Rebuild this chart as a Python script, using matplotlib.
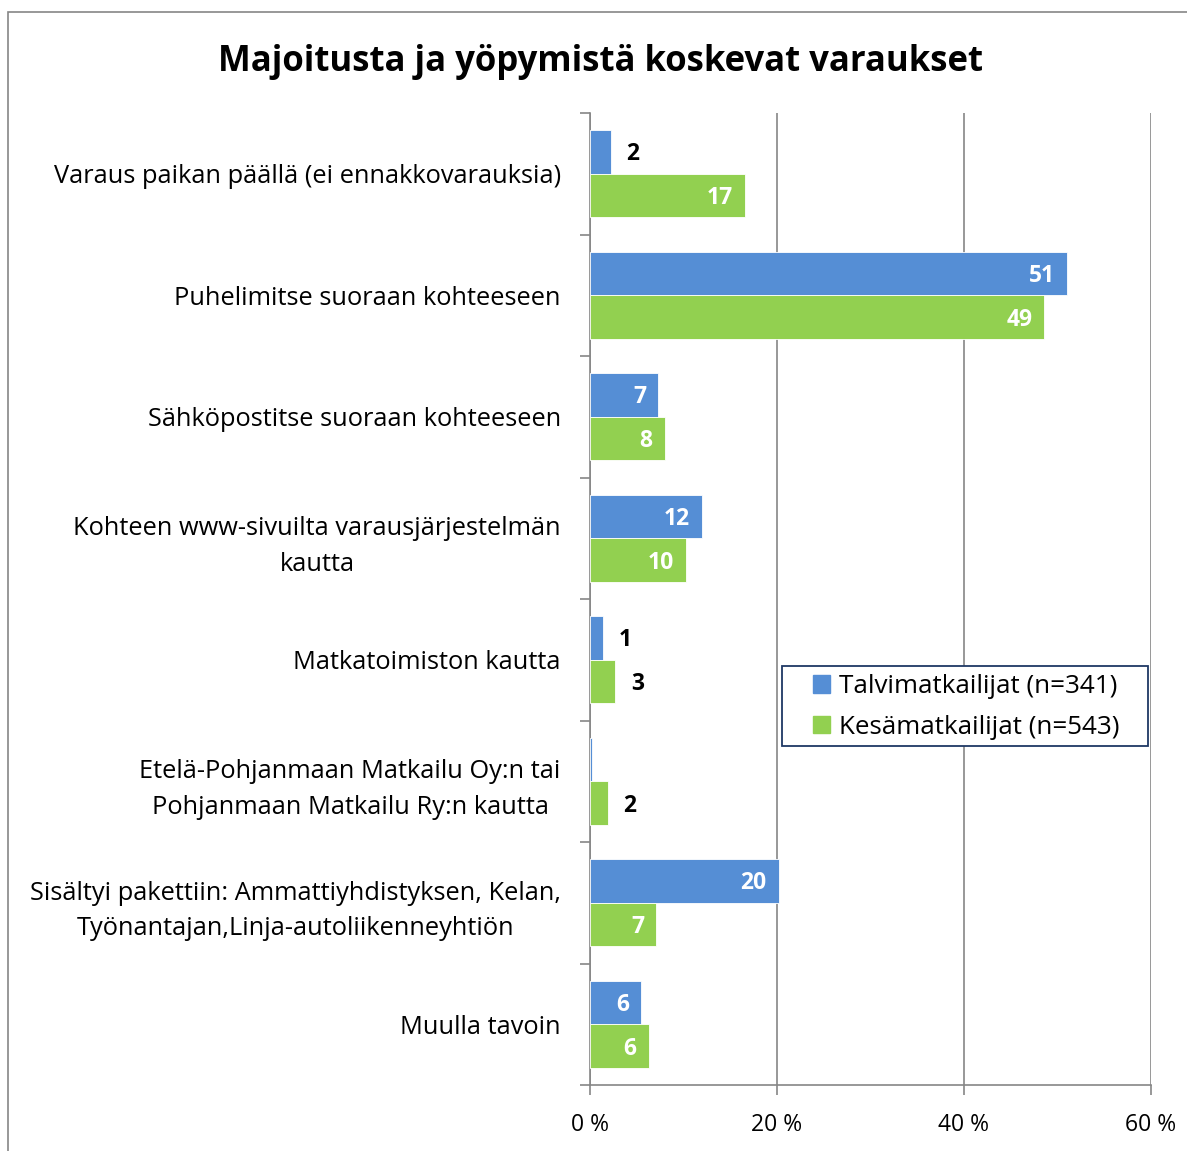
import matplotlib.pyplot as plt
import numpy as np
from matplotlib.patches import Rectangle, Patch

plt.rcParams["font.family"] = ["Open Sans", "DejaVu Sans"]

title = "Majoitusta ja yöpymistä koskevat varaukset"
categories = [
    "Varaus paikan päällä (ei ennakkovarauksia)",
    "Puhelimitse suoraan kohteeseen",
    "Sähköpostitse suoraan kohteeseen",
    "Kohteen www-sivuilta varausjärjestelmän\nkautta",
    "Matkatoimiston kautta",
    "Etelä-Pohjanmaan Matkailu Oy:n tai\nPohjanmaan Matkailu Ry:n kautta",
    "Sisältyi pakettiin: Ammattiyhdistyksen, Kelan,\nTyönantajan,Linja-autoliikenneyhtiön",
    "Muulla tavoin",
]
winter = [2.2, 51.0, 7.3, 12.0, 1.4, 0.2, 20.2, 5.5]
summer = [16.6, 48.6, 8.0, 10.3, 2.7, 1.9, 7.1, 6.3]
series_names = ["Talvimatkailijat (n=341)", "Kesämatkailijat (n=543)"]
xticks = [0, 20, 40, 60]

blue = "#558ED5"
green = "#92D050"

fig = plt.figure(figsize=(11.87, 11.51), dpi=100)
ax = fig.add_axes([590 / 1187, 1 - 1085 / 1151, 561 / 1187, 972 / 1151])

n = len(categories)
pos = np.arange(n)
h = 0.36
yb = pos - h / 2
yg = pos + h / 2

bars_b = ax.barh(yb, winter, height=h, color=blue, edgecolor="white", linewidth=0.6, zorder=3)
bars_g = ax.barh(yg, summer, height=h, color=green, edgecolor="white", linewidth=0.6, zorder=3)

for rects, vals in ((bars_b, winter), (bars_g, summer)):
    for r, v in zip(rects, vals):
        lab = round(v)
        if lab < 1:
            continue
        yc = r.get_y() + r.get_height() / 2 + 0.02
        if v >= 4:
            ax.text(v - 1.3, yc, str(lab), ha="right", va="center", color="white",
                    fontsize=16.5, fontweight="bold", zorder=4)
        else:
            ax.text(v + 1.7, yc, str(lab), ha="left", va="center", color="black",
                    fontsize=16.5, fontweight="bold", zorder=4)

ax.set_xlim(0, 60)
ax.set_ylim(n - 0.5, -0.5)
ax.set_xticks(xticks)
ax.set_xticklabels([f"{t} %" for t in xticks], fontsize=16.5)
ax.xaxis.grid(True, color="#868686", linewidth=1.2, zorder=0)
ax.set_axisbelow(True)

ax.set_yticks(pos)
ax.set_yticklabels(categories, fontsize=18.3, linespacing=1.55, multialignment="center")
ax.tick_params(axis="y", length=0, pad=21)
ax.set_yticks(np.arange(n + 1) - 0.5, minor=True)
ax.tick_params(axis="y", which="minor", length=7, color="#868686", width=1.2)
ax.tick_params(axis="x", length=7, color="#868686", width=1.2, direction="out", pad=13)

for s in ["top", "right"]:
    ax.spines[s].set_visible(False)
ax.spines["left"].set_color("#868686")
ax.spines["left"].set_linewidth(1.2)
ax.spines["bottom"].set_color("#868686")
ax.spines["bottom"].set_linewidth(1.2)

# legend box drawn separately so padding can match the original
fig.add_artist(Rectangle((782 / 1187, 1 - 746 / 1151), 366 / 1187, 80 / 1151,
                         transform=fig.transFigure, facecolor="white",
                         edgecolor="#1F3864", linewidth=1.3, zorder=5))
handles = [Patch(color=blue), Patch(color=green)]
leg = fig.legend(handles, series_names, loc="upper left",
                 bbox_to_anchor=(808 / 1187, 1 - 669 / 1151),
                 fontsize=18.7, frameon=False, handlelength=0.65,
                 handleheight=0.65, handletextpad=0.35, borderpad=0.2, labelspacing=0.6,
                 borderaxespad=0)
leg.set_zorder(6)

fig.text(601 / 1187, 1 - 62 / 1151, title, ha="center", va="center",
         fontsize=25, fontweight="bold")

fig.add_artist(Rectangle((8 / 1187, -0.01), 1.1, 1 - 12 / 1151 + 0.01,
                         transform=fig.transFigure, fill=False,
                         edgecolor="#868686", linewidth=1.2, clip_on=False))

fig.savefig("out.png", dpi=100)
